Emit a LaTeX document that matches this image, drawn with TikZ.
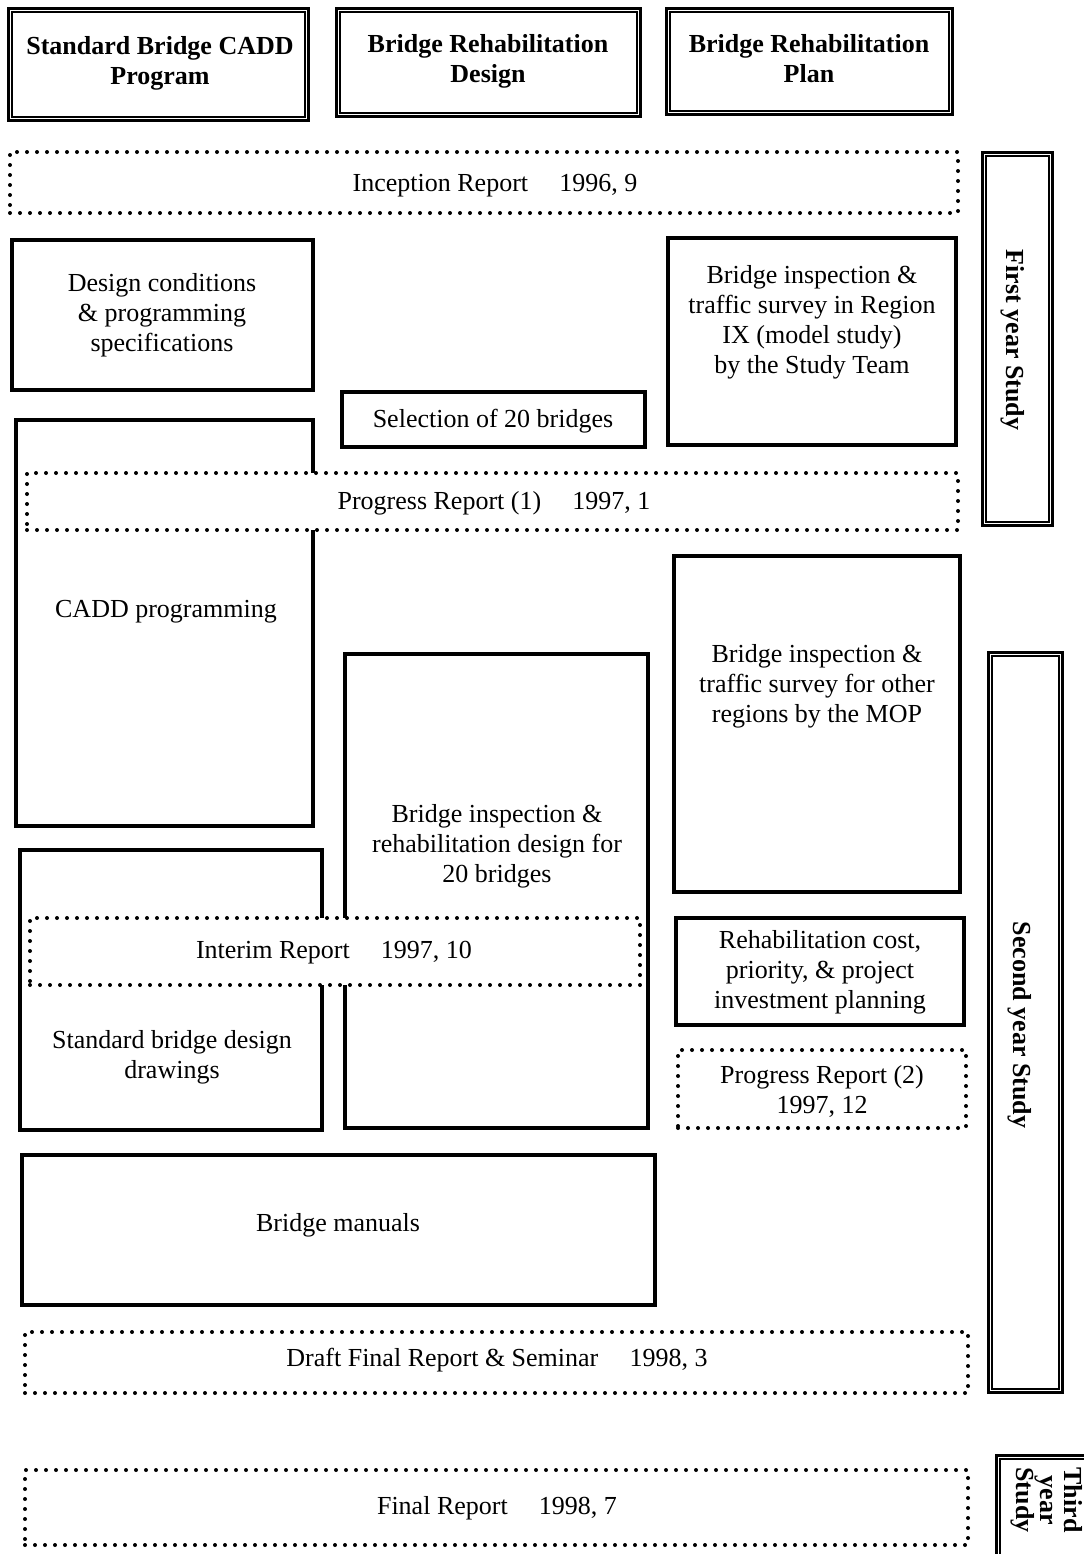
\documentclass[tikz,border=0pt]{standalone}
\usepackage{fontspec}
\setmainfont{Liberation Serif}
\begin{document}
\begin{tikzpicture}[x=0.5pt,y=-0.5pt,
  every node/.style={font=\fontsize{13}{15}\selectfont},
  wh/.style 2 args={minimum width=#1*0.5pt, minimum height=#2*0.5pt, inner sep=0pt},
  box/.style={draw, line width=1.8pt, rectangle},
  hdr/.style={draw, line width=1.5pt, rectangle},
  report/.style={draw, fill=white, line width=2pt, rectangle,
    dash pattern=on 0pt off 5pt, line cap=round},
  txt/.style={align=center, inner sep=0pt},
  btxt/.style={align=center, inner sep=0pt, font=\fontsize{13}{15}\selectfont\bfseries},
  inner/.style={line width=1pt}]
\useasboundingbox (0,0) rectangle (1083,1554);

% double-framed boxes: outer thick frame, thin inner frame
\newcommand{\innerframe}[1]{\draw[inner] ([shift={(5,-5)}]#1.south west) rectangle ([shift={(-5,5)}]#1.north east);}

% column headings
\node[hdr, wh={300}{112}] (h1) at (158,64) {};
\node[hdr, wh={304}{108}] (h2) at (488,62) {};
\node[hdr, wh={286}{106}] (h3) at (809,61) {};
\innerframe{h1}\innerframe{h2}\innerframe{h3}
\node[btxt] (h1t) at (160,63) {Standard Bridge CADD\\Program};
\node[btxt] (h2t) at (488,61) {Bridge Rehabilitation\\Design};
\node[btxt] (h3t) at (809,59) {Bridge Rehabilitation\\Plan};

% study-year bars
\node[hdr, wh={70}{373}] (s1) at (1017,338.5) {};
\node[hdr, wh={74}{740}] (s2) at (1025,1022) {};
\node[hdr, wh={100}{130}] (s3) at (1046,1520) {};
\innerframe{s1}\innerframe{s2}\innerframe{s3}
\node[btxt, rotate=-90] (s1t) at (1013,340) {First year Study};
\node[btxt, rotate=-90] (s2t) at (1020,1025) {Second year Study};
\node[btxt, rotate=-90, font=\fontsize{13}{12}\selectfont\bfseries] (s3t) at (1047,1500) {Third\\year\\Study};

% work items
\node[box, wh={301}{150}] (b1) at (162.5,315) {};
\node[txt] (b1t) at (162,315) {Design conditions\\\& programming\\specifications};

\node[box, wh={288}{207}] (b2) at (812,341.5) {};
\node[txt] (b2t) at (812,322) {Bridge inspection \&\\traffic survey in Region\\IX (model study)\\by the Study Team};

\node[box, wh={303}{55}] (b3) at (493.5,419.5) {};
\node[txt] (b3t) at (493,421) {Selection of 20 bridges};

\node[box, wh={297}{406}] (b4) at (164.5,623) {};
\node[txt] (b4t) at (166,612) {CADD programming};

\node[box, wh={286}{336}] (b5) at (817,724) {};
\node[txt] (b5t) at (817,686) {Bridge inspection \&\\traffic survey for other\\regions by the MOP};

\node[box, wh={303}{474}] (b6) at (496.5,891) {};
\node[txt] (b6t) at (497,846) {Bridge inspection \&\\rehabilitation design for\\20 bridges};

\node[box, wh={302}{280}] (b7) at (171,990) {};
\node[txt] (b7t) at (172,1057) {Standard bridge design\\drawings};

\node[box, wh={288}{107}] (b8) at (820,971.5) {};
\node[txt] (b8t) at (820,972) {Rehabilitation cost,\\priority, \& project\\investment planning};

\node[box, wh={633}{150}] (b9) at (338.5,1230) {};
\node[txt] (b9t) at (338,1225) {Bridge manuals};

% reports (dotted, drawn over the work items)
\node[report, wh={948}{61}] (r1) at (484,182.5) {};
\node[txt] (r1t) at (495,186) {Inception Report\hspace{1.2em}1996, 9};

\node[report, wh={931}{57}] (r2) at (492.5,501.5) {};
\node[txt] (r2t) at (494,503) {Progress Report (1)\hspace{1.2em}1997, 1};

\node[report, wh={610}{67}] (r3) at (335,951.5) {};
\node[txt] (r3t) at (334,953) {Interim Report\hspace{1.2em}1997, 10};

\node[report, wh={288}{78}] (r4) at (822,1089) {};
\node[txt] (r4t) at (822,1091) {Progress Report (2)\\1997, 12};

\node[report, wh={943}{61}] (r5) at (496.5,1362.5) {};
\node[txt] (r5t) at (497,1360) {Draft Final Report \& Seminar\hspace{1.2em}1998, 3};

\node[report, wh={943}{75}] (r6) at (496.5,1507.5) {};
\node[txt] (r6t) at (497,1508) {Final Report\hspace{1.2em}1998, 7};
\end{tikzpicture}
\end{document}
